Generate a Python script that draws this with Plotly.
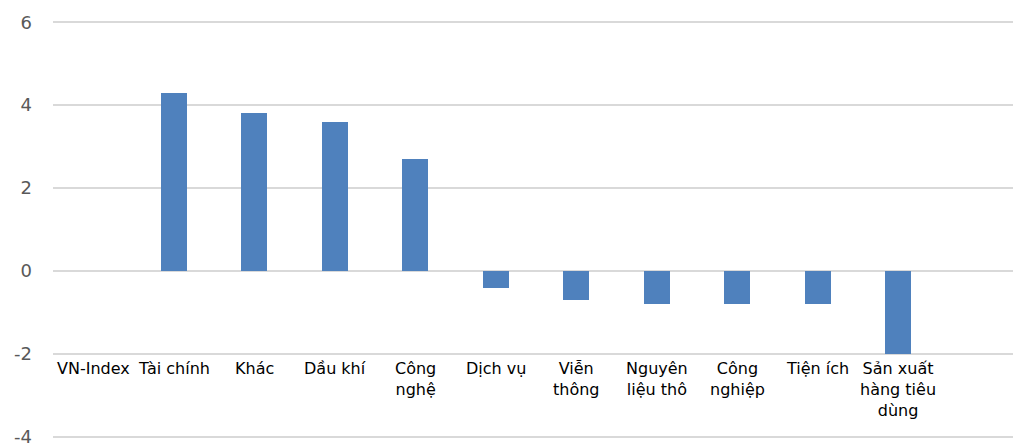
import plotly.graph_objects as go

categories = ["VN-Index", "Tài chính", "Khác", "Dầu khí", "Công nghệ", "Dịch vụ",
              "Viễn thông", "Nguyên liệu thô", "Công nghiệp", "Tiện ích",
              "Sản xuất hàng tiêu dùng"]
label_text = ["VN-Index", "Tài chính", "Khác", "Dầu khí", "Công<br>nghệ", "Dịch vụ",
              "Viễn<br>thông", "Nguyên<br>liệu thô", "Công<br>nghiệp", "Tiện ích",
              "Sản xuất<br>hàng tiêu<br>dùng"]
values = [0.0, 4.3, 3.8, 3.6, 2.7, -0.4, -0.7, -0.8, -0.8, -0.8, -2.0]
y_ticks = [-4, -2, 0, 2, 4, 6]
y_tick_text = ["-4", "-2", "0", "2", "4", "6"]

fig = go.Figure()
fig.add_trace(go.Bar(
    x=categories, y=values, width=0.32,
    marker=dict(color="#4F81BD", line=dict(width=0)),
))

for cat, lab in zip(categories, label_text):
    fig.add_annotation(x=cat, y=-2, xref="x", yref="y", text=lab, showarrow=False,
                       yanchor="top", xanchor="center", yshift=-3,
                       font=dict(family="DejaVu Sans", size=16, color="#000000"),
                       align="center")

pad = 0.03
fig.update_layout(
    width=1013, height=445,
    margin=dict(l=53, r=0, t=21, b=7),
    paper_bgcolor="white", plot_bgcolor="white",
    showlegend=False,
    bargap=0,
    xaxis=dict(range=[-0.5, 11.425], showticklabels=False, showgrid=False,
               zeroline=False, showline=False, ticks="", automargin=False),
    yaxis=dict(range=[-4 - pad, 6 + pad], tickvals=y_ticks, ticktext=y_tick_text,
               showgrid=True, gridcolor="#D9D9D9",
               gridwidth=1.5, zeroline=False, showline=False, ticks="",
               ticklabelstandoff=20, automargin=False, ticklabeloverflow="allow",
               tickfont=dict(family="DejaVu Sans", size=18, color="#595959")),
)

fig.write_html("out.html", config={"displayModeBar": False},
               post_script="document.body.style.margin='0';document.body.style.overflow='hidden';")
